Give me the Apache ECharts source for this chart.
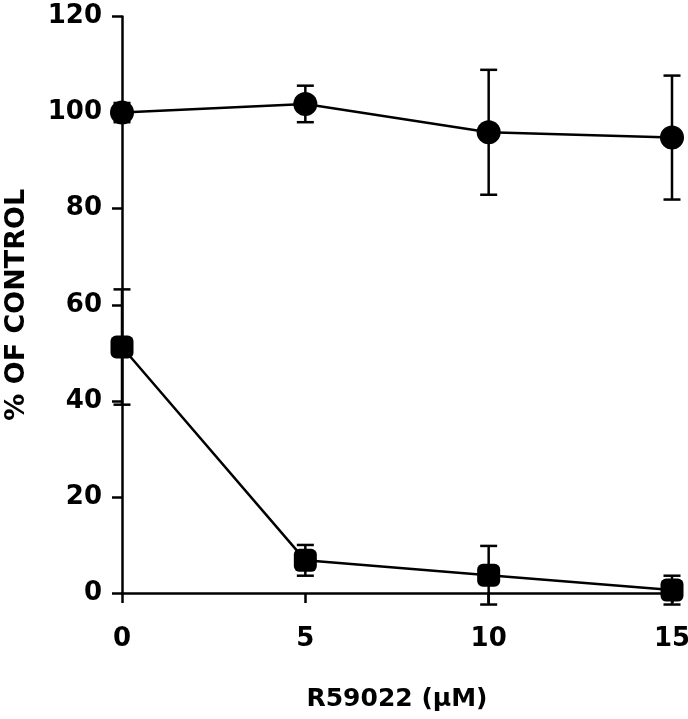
<!DOCTYPE html>
<html>
<head>
<meta charset="utf-8">
<script src="https://cdn.jsdelivr.net/npm/echarts@6/dist/echarts.min.js"></script>
<style>html,body{margin:0;padding:0;background:#fff;}#c{width:688px;height:719px;}</style>
</head>
<body>
<div id="c"></div>
<script>
var xValues = [0, 5, 10, 15];
var xTicks = [0, 5, 10, 15];
var yTicks = [0, 20, 40, 60, 80, 100, 120];
var circleMeans = [100, 101.8, 95.9, 94.8];
var circleErrors = [2, 3.8, 13, 12.9];
var squareMeans = [51.2, 6.8, 3.7, 0.6];
var squareErrors = [12, 3.2, 6.1, 3.0];

var FONT = 'DejaVu Sans';
function pairs(means) { return xValues.map(function (x, i) { return [x, means[i]]; }); }
function errData(means, errs) { return xValues.map(function (x, i) { return [x, means[i] - errs[i], means[i] + errs[i]]; }); }

function renderErr(params, api) {
  var x = api.value(0), lo = api.value(1), hi = api.value(2);
  var pLo = api.coord([x, lo]), pHi = api.coord([x, hi]);
  var hw = 8.5;
  var style = { stroke: '#000', lineWidth: 2.5 };
  return {
    type: 'group',
    children: [
      { type: 'line', shape: { x1: pLo[0], y1: pLo[1], x2: pHi[0], y2: pHi[1] }, style: style },
      { type: 'line', shape: { x1: pHi[0] - hw, y1: pHi[1], x2: pHi[0] + hw, y2: pHi[1] }, style: style },
      { type: 'line', shape: { x1: pLo[0] - hw, y1: pLo[1], x2: pLo[0] + hw, y2: pLo[1] }, style: style }
    ]
  };
}

var chart = echarts.init(document.getElementById('c'), null, { renderer: 'canvas' });
chart.setOption({
  backgroundColor: '#fff',
  animation: false,
  grid: { left: 122, right: 16, top: 16.5, bottom: 126, containLabel: false, outerBoundsMode: 'none' },
  xAxis: {
    type: 'value', min: 0, max: 15, interval: 5,
    name: 'R59022 (\u03bcM)', nameLocation: 'middle', nameGap: 94,
    nameTextStyle: { fontFamily: FONT, fontWeight: 'bold', fontSize: 25, color: '#000' },
    axisLine: { show: true, lineStyle: { color: '#000', width: 2.5 } },
    axisTick: { show: true, inside: false, length: 10, lineStyle: { color: '#000', width: 2.5 } },
    axisLabel: { margin: 33, fontFamily: FONT, fontWeight: 'bold', fontSize: 26, color: '#000',
      formatter: function (v) { return xTicks.indexOf(v) >= 0 ? String(v) : ''; } },
    splitLine: { show: false }
  },
  yAxis: {
    type: 'value', min: 0, max: 120, interval: 20,
    name: '% OF CONTROL', nameLocation: 'middle', nameGap: 92, nameRotate: 90,
    nameTextStyle: { fontFamily: FONT, fontWeight: 'bold', fontSize: 27, color: '#000' },
    axisLine: { show: true, lineStyle: { color: '#000', width: 2.5 } },
    axisTick: { show: true, inside: false, length: 10, lineStyle: { color: '#000', width: 2.5 } },
    axisLabel: { margin: 20, fontFamily: FONT, fontWeight: 'bold', fontSize: 26, color: '#000',
      formatter: function (v) { return yTicks.indexOf(v) >= 0 ? String(v) : ''; } },
    splitLine: { show: false }
  },
  series: [
    { type: 'custom', renderItem: renderErr, data: errData(circleMeans, circleErrors), clip: false, z: 2 },
    { type: 'custom', renderItem: renderErr, data: errData(squareMeans, squareErrors), clip: false, z: 2 },
    { type: 'line', data: pairs(circleMeans), symbol: 'circle', symbolSize: 24, clip: false,
      lineStyle: { color: '#000', width: 2.5 }, itemStyle: { color: '#000' }, z: 3 },
    { type: 'line', data: pairs(squareMeans), symbol: 'roundRect', symbolSize: 23, clip: false,
      lineStyle: { color: '#000', width: 2.5 }, itemStyle: { color: '#000' }, z: 3 }
  ]
});
</script>
</body>
</html>
